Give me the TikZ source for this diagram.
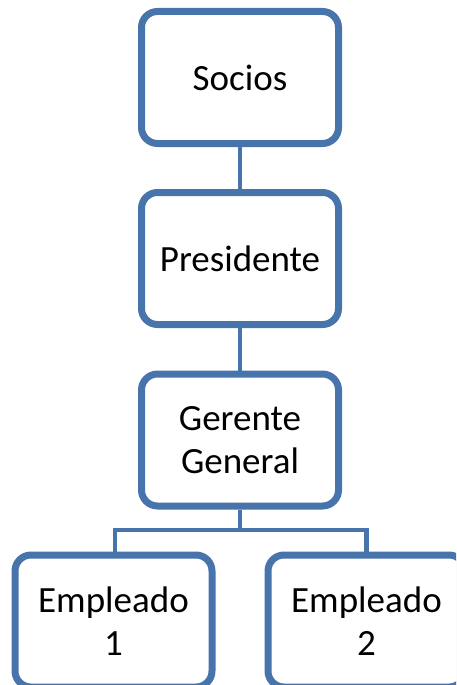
\documentclass[tikz,border=0pt]{standalone}
\usepackage{fontspec}
\setmainfont{Carlito}
\usetikzlibrary{shadows}
\definecolor{orgblue}{RGB}{72,116,172}
\tikzset{
  orgbox/.style={draw=orgblue, fill=white, line width=7pt, rounded corners=16pt,
    minimum width=197pt, minimum height=132pt, inner sep=0pt, align=center,
    font=\fontsize{37}{43}\selectfont,
    drop shadow={opacity=0.25, shadow xshift=1pt, shadow yshift=-3pt}},
  link/.style={draw=orgblue, line width=4.5pt}
}
\begin{document}
\begin{tikzpicture}[x=1pt, y=-1pt]
  \useasboundingbox (0,0) rectangle (456,685);
  \clip (0,0) rectangle (456,685);
  % chain of command
  \node[orgbox] (soc) at (240,77.5) {Socios};
  \node[orgbox] (pre) at (240,258.5) {Presidente};
  \node[orgbox] (ger) at (240,440) {Gerente\\General};
  \node[orgbox] (em1) at (113.5,621) {Empleado\\1};
  \node[orgbox] (em2) at (366.5,621) {Empleado\\2};
  \coordinate (bus) at (240,530);
  \draw[link] (soc.south) -- (pre.north);
  \draw[link] (pre.south) -- (ger.north);
  \draw[link] (ger.south) -- (bus);
  \draw[link] ([xshift=1.5pt]em1.north) |- (bus) -| (em2.north);
\end{tikzpicture}
\end{document}
